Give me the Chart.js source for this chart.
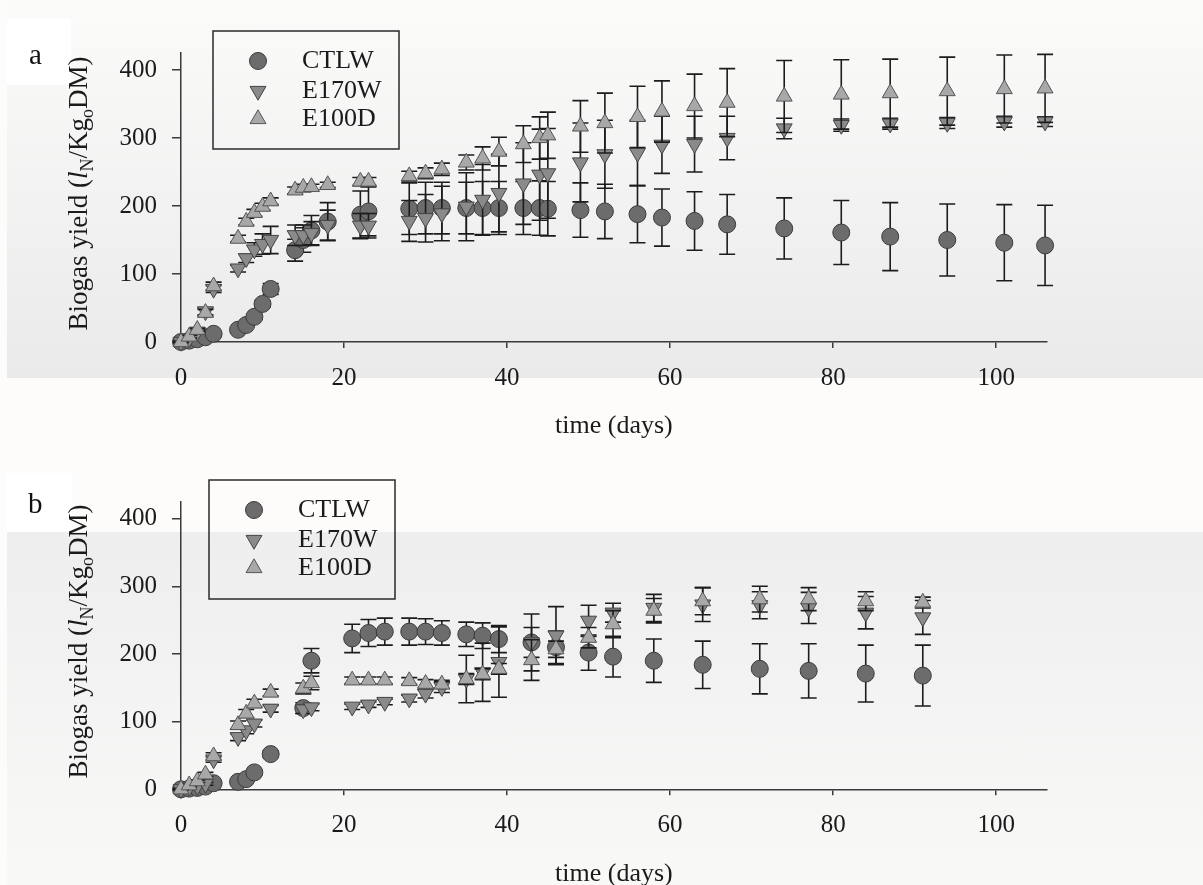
<!DOCTYPE html>
<html>
<head>
<meta charset="utf-8">
<script src="https://cdn.jsdelivr.net/npm/chart.js@4.4.1/dist/chart.umd.min.js"></script>
<style>
  html, body { margin: 0; padding: 0; background: #fdfcfb; }
  #page { position: relative; width: 1203px; height: 885px; overflow: hidden; }
  .band { position: absolute; left: 7px; right: 0; }
  #bandA { top: 0; height: 378px; background: linear-gradient(#fbfbfa, #eaeaea); }
  #bandB { top: 532px; height: 353px; background: linear-gradient(#eeeeee, #f9f9f8); }
  canvas { position: absolute; left: 0; }
  #chartA { top: 0; }
  #chartB { top: 442px; }
</style>
</head>
<body>
<div id="page">
  <div class="band" id="bandA"></div>
  <div class="band" id="bandB"></div>
  <canvas id="chartA" width="1203" height="442"></canvas>
  <canvas id="chartB" width="1203" height="443"></canvas>
</div>
<script>
'use strict'

// ---- data, panel a ----
const daysA = [0,1,2,3,4,7,8,9,10,11,14,15,16,18,22,23,28,30,32,35,37,39,42,44,45,49,52,56,59,63,67,74,81,87,94,101,106];
const ctlwA = [0,2,4,7,12,18,25,37,56,78,135,150,164,177,187,192,196,197,197,197,197,197,197,197,196,194,192,188,183,178,173,167,161,155,150,146,142];
const ctlwErrA = [1,1,2,2,3,3,3,4,5,8,16,18,22,28,35,36,38,38,38,38,39,39,39,40,40,40,40,42,42,43,44,45,47,50,53,56,59];
const e170A = [0,5,15,45,78,108,123,136,144,150,157,157,160,172,171,171,178,182,189,199,209,219,233,246,248,264,276,278,290,291,300,314,319,321,322,324,324];
const e170ErrA = [1,2,3,5,5,5,6,10,15,20,15,15,17,22,18,18,30,35,40,50,52,57,60,67,66,58,50,48,42,41,32,15,9,8,8,8,7];
const e100A = [0,8,18,43,82,152,177,190,199,207,223,227,228,231,236,236,244,248,254,264,270,280,291,300,304,317,322,331,339,347,352,361,364,366,369,372,373];
const e100ErrA = [1,2,2,5,6,5,5,5,5,5,5,5,4,4,6,6,7,8,9,11,17,21,27,31,34,38,44,45,45,47,50,53,51,50,50,50,50];

// ---- data, panel b ----
const daysB = [0,1,2,3,4,7,8,9,11,15,16,21,23,25,28,30,32,35,37,39,43,46,50,53,58,64,71,77,84,91];
const ctlwB = [0,1,2,4,9,11,15,25,52,120,190,223,231,233,233,233,231,229,227,222,217,210,202,196,190,184,178,175,171,168];
const ctlwErrB = [1,1,1,2,3,3,3,4,5,8,18,21,20,20,20,19,18,18,19,20,22,24,26,30,32,35,37,40,42,45];
const e170B = [0,3,5,8,44,77,87,97,119,118,121,122,125,129,134,141,151,163,173,188,217,227,249,261,268,273,272,268,261,254];
const e170ErrB = [1,1,2,2,4,5,5,5,5,6,5,4,4,4,5,6,8,35,43,52,42,43,23,14,20,25,20,23,24,25];
const e100B = [0,6,12,22,49,95,112,127,143,149,157,161,161,161,160,156,155,163,170,178,191,207,224,244,264,278,281,281,278,276];
const e100ErrB = [1,2,2,3,5,6,6,6,5,8,10,5,5,5,5,6,6,8,8,8,30,12,15,20,18,20,19,17,14,8];

const seriesNames = ['CTLW', 'E170W', 'E100D'];
const xTicks = [0, 20, 40, 60, 80, 100];
const yTicks = [0, 100, 200, 300, 400];
const xTitle = 'time (days)';
const yTitleParts = [
    { t: 'Biogas yield (' },
    { t: 'l', it: true },
    { t: 'N', sub: true },
    { t: '/Kg' },
    { t: 'o', sub: true },
    { t: 'DM)' }
];

const SERIF = '"Liberation Serif", "Times New Roman", serif';

// points with their error attached
const pts = (days, vals, errs) => days.map((d, i) => ({ x: d, y: vals[i], err: errs[i] }));

const styles = [
    { pointStyle: 'circle', pointRadius: 8.5, rotation: 0, bg: '#6c6c6c', border: '#3a3a3a', order: 3 },
    { pointStyle: 'triangle', pointRadius: 9.2, rotation: 180, bg: '#8a8a8a', border: '#444444', order: 2 },
    { pointStyle: 'triangle', pointRadius: 9.2, rotation: 0, bg: '#a8a8a8', border: '#555555', order: 1 }
];

const makeDatasets = (list) => list.map((data, i) => ({
    label: seriesNames[i],
    data: data,
    pointStyle: styles[i].pointStyle,
    pointRadius: styles[i].pointRadius,
    pointHoverRadius: styles[i].pointRadius,
    pointRotation: styles[i].rotation,
    backgroundColor: styles[i].bg,
    borderColor: styles[i].border,
    borderWidth: 1,
    showLine: false,
    clip: false,
    order: styles[i].order
}));

/******************     PLUGINS    ******************/

// error bars, drawn just before each dataset's markers
const errorBars = {
    id: 'errorBars',
    beforeDatasetDraw(chart, args) {
        const ds = chart.data.datasets[args.index];
        const xs = chart.scales.x, ys = chart.scales.y;
        const ctx = chart.ctx;
        ctx.save();
        ctx.strokeStyle = '#1c1c1c';
        ctx.lineWidth = 1.6;
        for (let p of ds.data) {
            if (!p.err) continue;
            const px = xs.getPixelForValue(p.x);
            const top = ys.getPixelForValue(p.y + p.err);
            const bot = ys.getPixelForValue(p.y - p.err);
            ctx.beginPath();
            ctx.moveTo(px, top); ctx.lineTo(px, bot);
            ctx.moveTo(px - 8, top); ctx.lineTo(px + 8, top);
            ctx.moveTo(px - 8, bot); ctx.lineTo(px + 8, bot);
            ctx.stroke();
        }
        ctx.restore();
    }
};

// panel letter, boxed legend and the y title with subscripts
const decor = {
    id: 'decor',
    beforeDraw(chart, args, o) {
        const ctx = chart.ctx;
        ctx.save();
        ctx.fillStyle = '#ffffff';
        ctx.fillRect(...o.letterBox);
        ctx.restore();
    },
    afterDraw(chart, args, o) {
        const ctx = chart.ctx, ca = chart.chartArea;
        ctx.save();
        ctx.fillStyle = '#111111';
        ctx.font = '29px ' + SERIF;
        ctx.textAlign = 'left';
        ctx.textBaseline = 'alphabetic';
        ctx.fillText(o.letter, o.letterX, o.letterY);

        // legend box
        const [bx, by, bw, bh] = o.legendBox;
        ctx.strokeStyle = '#2a2a2a';
        ctx.lineWidth = 1.5;
        ctx.strokeRect(bx, by, bw, bh);
        chart.data.datasets.forEach((ds, i) => {
            const y = o.legendRows[i];
            ctx.fillStyle = ds.backgroundColor;
            ctx.strokeStyle = ds.borderColor;
            ctx.lineWidth = 1;
            Chart.helpers.drawPoint(ctx, {
                pointStyle: ds.pointStyle,
                radius: ds.pointRadius,
                rotation: ds.pointRotation,
                borderWidth: 1
            }, o.legendSymX, y);
            ctx.fillStyle = '#1a1a1a';
            ctx.font = '26px ' + SERIF;
            ctx.textBaseline = 'middle';
            ctx.fillText(ds.label, o.legendTextX, y);
        });

        // y title
        const fontOf = (p) => p.sub ? '18px ' + SERIF : (p.it ? 'italic 27px ' + SERIF : '27px ' + SERIF);
        let total = 0;
        const widths = yTitleParts.map(p => { ctx.font = fontOf(p); const w = ctx.measureText(p.t).width; total += w; return w; });
        ctx.translate(o.yTitleX, (ca.top + ca.bottom) / 2 - 4);
        ctx.rotate(-Math.PI / 2);
        ctx.fillStyle = '#1a1a1a';
        ctx.textBaseline = 'alphabetic';
        let x = -total / 2;
        yTitleParts.forEach((p, i) => {
            ctx.font = fontOf(p);
            ctx.fillText(p.t, x, p.sub ? 6 : 0);
            x += widths[i];
        });
        ctx.restore();
    }
};

/******************     CHARTS    ******************/

const makeChart = (id, datasets, padTop, xHeight, titlePad, deco) => {
    const tickFont = { family: SERIF, size: 25 };
    return new Chart(document.getElementById(id), {
        type: 'scatter',
        data: { datasets: datasets },
        options: {
            responsive: false,
            animation: false,
            layout: { padding: { top: padTop, right: 156.3, bottom: 0, left: 0 } },
            plugins: {
                legend: { display: false },
                tooltip: { enabled: false },
                decor: deco
            },
            scales: {
                x: {
                    type: 'linear', min: 0, max: 106.2,
                    afterBuildTicks: (s) => { s.ticks = xTicks.map(v => ({ value: v })); },
                    afterFit: (s) => { s.height = xHeight; },
                    border: { display: true, color: '#3a3a3a', width: 1.5 },
                    grid: { display: true, drawOnChartArea: false, drawTicks: true, tickLength: 6, color: '#3a3a3a', lineWidth: 1.5 },
                    ticks: { color: '#1a1a1a', font: tickFont, padding: 15, maxRotation: 0, autoSkip: false },
                    title: { display: true, text: xTitle, color: '#1a1a1a', font: { family: SERIF, size: 26 }, padding: { top: 0, bottom: titlePad } }
                },
                y: {
                    type: 'linear', min: 0, max: 425,
                    afterBuildTicks: (s) => { s.ticks = yTicks.map(v => ({ value: v })); },
                    afterFit: (s) => { s.width = 181; },
                    border: { display: true, color: '#3a3a3a', width: 1.5 },
                    grid: { display: true, drawOnChartArea: false, drawTicks: true, tickLength: 9, color: '#3a3a3a', lineWidth: 1.5 },
                    ticks: { color: '#1a1a1a', font: tickFont, padding: 15 }
                }
            }
        },
        plugins: [errorBars, decor]
    });
};

makeChart('chartA', makeDatasets([
    pts(daysA, ctlwA, ctlwErrA),
    pts(daysA, e170A, e170ErrA),
    pts(daysA, e100A, e100ErrA)
]), 53, 100, 0, {
    letter: 'a', letterX: 29, letterY: 64, letterBox: [7, 18, 64, 67],
    legendBox: [213, 31, 186, 118], legendSymX: 258, legendTextX: 302, legendRows: [61, 91, 119],
    yTitleX: 87
});

makeChart('chartB', makeDatasets([
    pts(daysB, ctlwB, ctlwErrB),
    pts(daysB, e170B, e170ErrB),
    pts(daysB, e100B, e100ErrB)
]), 59.7, 95.7, -5, {
    letter: 'b', letterX: 28, letterY: 71, letterBox: [7, 31, 65, 59],
    legendBox: [209, 38, 186, 119], legendSymX: 254, legendTextX: 298, legendRows: [68, 98, 126],
    yTitleX: 87
});
</script>
</body>
</html>
